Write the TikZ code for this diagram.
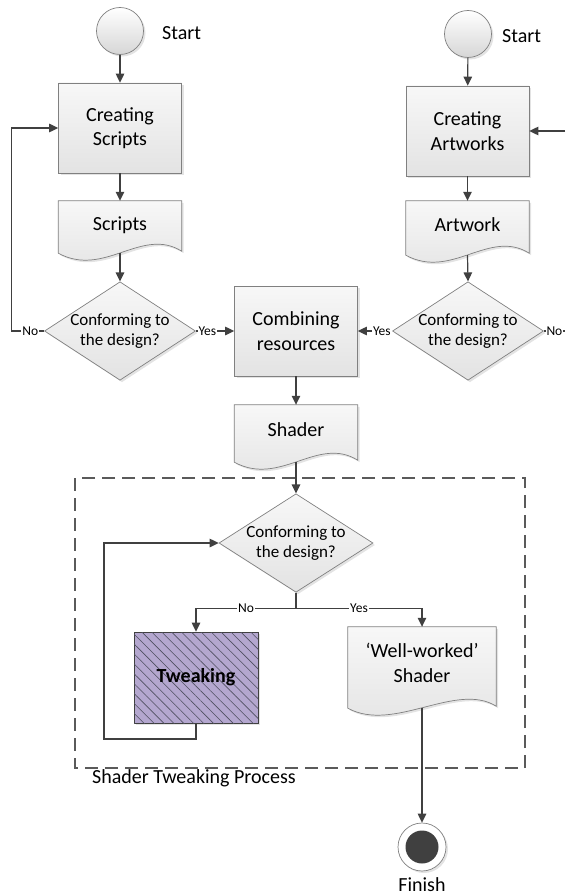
\documentclass[tikz,border=0pt]{standalone}
\usepackage{fontspec}
\setmainfont{Carlito}
\usetikzlibrary{arrows.meta,shapes.geometric,shadows,patterns.meta,backgrounds}
\definecolor{edgegray}{HTML}{808080}
\definecolor{arrowgray}{HTML}{404040}
\definecolor{lavender}{HTML}{B4A7CF}
\definecolor{hatchgray}{HTML}{4F4F60}
\definecolor{dashgray}{HTML}{5A5A5A}
\tikzset{
  every node/.style={inner sep=0pt},
  ln/.style={draw=arrowgray, line width=1.2pt},
  arr/.style={ln, -{Triangle[length=9pt,width=8.5pt]}},
  lbl/.style={fill=white, font=\fontsize{13.5}{15}\selectfont, inner sep=1pt},
  shadowed/.style={drop shadow={shadow xshift=2pt, shadow yshift=-2pt, opacity=0.22}},
  boxfill/.style={draw=edgegray, line width=0.7pt, top color=white!97!black, bottom color=white!89!black, shadowed},
  procbox/.style={boxfill, rectangle, minimum width=123pt, minimum height=90pt,
    font=\fontsize{20}{24.5}\selectfont, align=center},
  tweakbox/.style={rectangle, draw=arrowgray, line width=0.7pt, fill=lavender, shadowed,
    minimum width=124pt, minimum height=91pt,
    postaction={pattern={Lines[angle=-45,distance=7pt,line width=0.6pt]}, pattern color=hatchgray},
    font=\fontsize{20}{24}\selectfont\bfseries},
  decision/.style={boxfill, diamond, minimum width=151pt, minimum height=92pt,
    inner xsep=-9pt, inner ysep=-9pt, font=\fontsize{17}{20.5}\selectfont, align=center},
  docnode/.style={rectangle, minimum width=123pt, font=\fontsize{20}{24.5}\selectfont, align=center},
  docshape/.style={draw=edgegray, line width=0.7pt, top color=white!97!black, bottom color=white!89!black, shadowed},
  startc/.style={circle, draw=edgegray, line width=0.7pt, top color=white, bottom color=white!84!black,
    minimum size=47pt, shadowed},
  bigtext/.style={font=\fontsize{20}{24}\selectfont},
}
\newcommand\drawdoc[1]{%
  \draw[docshape] (#1.north west) -- (#1.north east) -- ([yshift=2pt]#1.south east)
    .. controls ([xshift=-40pt,yshift=27pt]#1.south east) and ([xshift=46pt,yshift=-25pt]#1.south west)
    .. (#1.south west) -- cycle;}
\begin{document}
\begin{tikzpicture}[x=1pt,y=1pt]
\useasboundingbox (0,0) rectangle (565,-896);

% group frame
\draw[dashgray, line width=1.1pt, dash pattern=on 13pt off 7pt] (75,-478) rectangle (525,-768);
\node[bigtext, anchor=west] (grplbl) at (92,-778) {Shader Tweaking Process};

% left column
\node[startc] (start1) at (120,-31) {};
\node[bigtext, anchor=west] (start1t) at (162,-33) {Start};
\node[procbox] (box1) at (120,-128) {Creating\\Scripts};
\node[docnode, minimum height=52pt, text depth=7pt] (scripts) at (120,-227) {Scripts};
\node[decision] (dia1) at (120,-331) {Conforming to\\the design?};

% right column
\node[startc] (start2) at (468,-34) {};
\node[bigtext, anchor=west] (start2t) at (502,-36) {Start};
\node[procbox] (box2) at (467.5,-131) {Creating\\Artworks};
\node[docnode, minimum height=54pt, text depth=7pt] (artwork) at (467.5,-228) {Artwork};
\node[decision] (dia2) at (468,-331) {Conforming to\\the design?};

% middle column
\node[procbox] (comb) at (296,-331) {Combining\\resources};
\node[docnode, minimum height=57pt, text depth=7pt] (shader) at (296,-433.5) {Shader};
\node[decision, minimum width=154pt, minimum height=90pt] (dia3) at (296,-543) {Conforming to\\the design?};

\node[tweakbox] (tweak) at (196,-677.5) {Tweaking};
\node[docnode, minimum width=148pt, minimum height=81pt, text depth=9pt] (well) at (422,-667.5) {‘Well-worked’\\Shader};

\node[circle, draw=edgegray, line width=0.7pt, fill=white, minimum size=48pt, shadowed] (finish) at (422,-847) {};
\node[circle, fill=arrowgray, minimum size=33pt] (finishin) at (finish.center) {};
\node[bigtext] (finisht) at (422,-885) {Finish};

\begin{scope}[on background layer]
  \drawdoc{scripts}
  \drawdoc{artwork}
  \drawdoc{shader}
  \drawdoc{well}
\end{scope}

\coordinate (redge1) at (565,-331);
\coordinate (redge2) at (565,-131);
\coordinate (loopc) at (104,-739);

% connectors
\draw[arr] (start1) -- (box1);
\draw[arr] (box1) -- (scripts);
\draw[arr] (scripts.south) -- (dia1.north);
\draw[arr] (dia1.west) -- node[lbl,pos=0.42]{No} ++(-33,0) |- (box1.west);
\draw[arr] (dia1.east) -- node[lbl,pos=0.3]{Yes} (comb.west);

\draw[arr] (start2) -- (box2);
\draw[arr] (box2) -- (artwork);
\draw[arr] (artwork.south) -- (dia2.north);
\draw[arr] (dia2.west) -- node[lbl,pos=0.3]{Yes} (comb.east);
\draw[ln] (dia2.east) -- node[lbl,pos=0.5]{No} (redge1);
\draw[arr] (redge2) -- (box2.east);

\draw[arr] (comb) -- (shader);
\draw[arr] (shader.south) -- (dia3.north);
\draw[arr] (dia3.south) -- ++(0,-16) -| node[lbl,pos=0.25]{No} (tweak.north);
\draw[arr] (dia3.south) -- ++(0,-16) -| node[lbl,pos=0.25]{Yes} (well.north);
\draw[arr] (tweak.south) |- (loopc) |- (dia3.west);
\draw[arr] (well.south) -- (finish.north);
\end{tikzpicture}
\end{document}
